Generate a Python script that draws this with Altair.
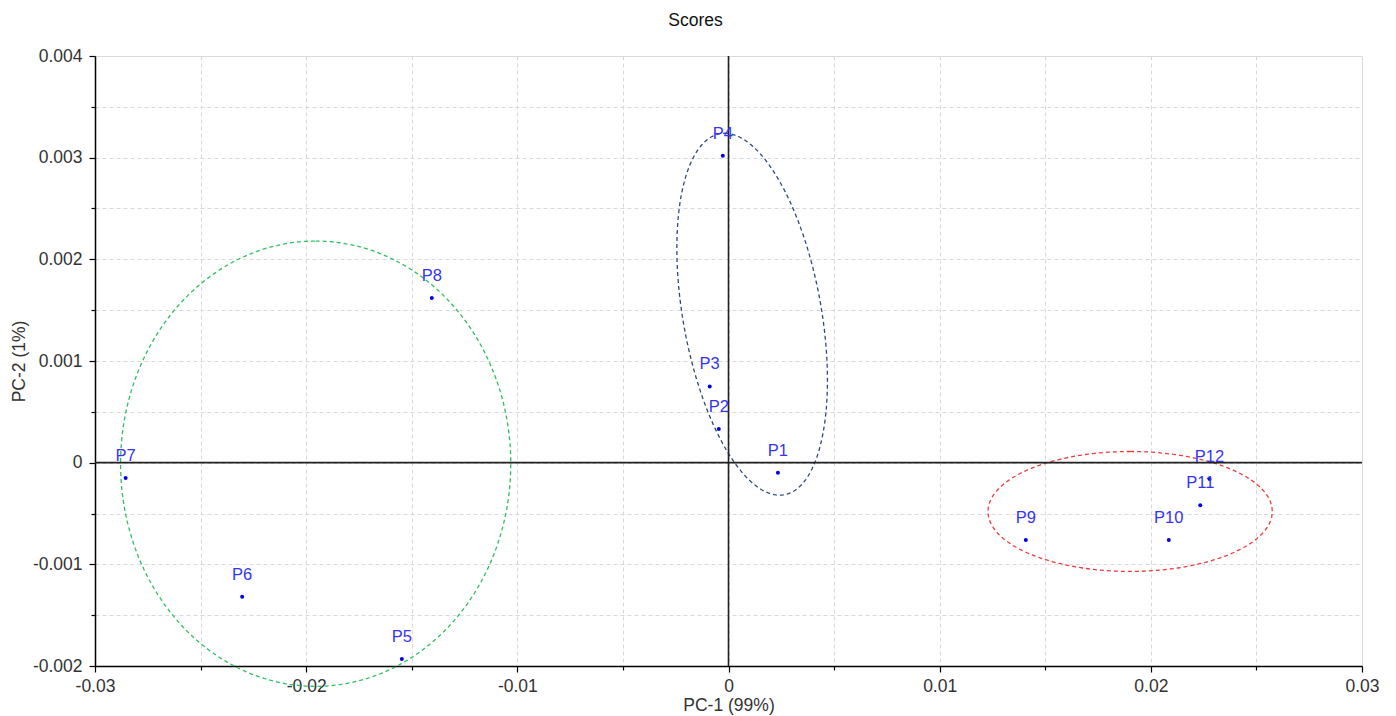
import json
import numpy as np
import pandas as pd
import altair as alt

# ---- data ----
labels = ["P1", "P2", "P3", "P4", "P5", "P6", "P7", "P8", "P9", "P10", "P11", "P12"]
pc1 = [0.00234, -0.00046, -0.00089, -0.00027, -0.01547, -0.02303, -0.02855,
       -0.01405, 0.01408, 0.02085, 0.02234, 0.02278]
pc2 = [-0.00010, 0.00033, 0.00075, 0.00302, -0.00193, -0.00132, -0.00015,
       0.00162, -0.00076, -0.00076, -0.00042, -0.00016]

# ellipses: centre, conjugate semi-diameters u and v (data units)
ell_names = ["green", "blue", "red"]
ell_cx = [-0.01955, 0.00112, 0.01902]
ell_cy = [-0.00001, 0.00146, -0.00048]
ell_ux = [0.0, -0.00130, 0.0]
ell_uy = [0.00219, 0.00178, 0.00059]
ell_vx = [0.00924, 0.00332, 0.00673]
ell_vy = [0.0, 0.0, 0.0]
ell_colors = ["#2fbf62", "#2e4a7d", "#f03a3a"]

x_ticks = [-0.03, -0.025, -0.02, -0.015, -0.01, -0.005, 0, 0.005, 0.01, 0.015, 0.02, 0.025, 0.03]
x_major = [-0.03, -0.02, -0.01, 0, 0.01, 0.02, 0.03]
y_ticks = [-0.002, -0.0015, -0.001, -0.0005, 0, 0.0005, 0.001, 0.0015, 0.002, 0.0025, 0.003, 0.0035, 0.004]
y_major = [-0.002, -0.001, 0, 0.001, 0.002, 0.003, 0.004]

pts = pd.DataFrame({"label": labels, "pc1": pc1, "pc2": pc2})

rows = []
ts = np.linspace(0, 2 * np.pi, 241)
for i, name in enumerate(ell_names):
    for k, t in enumerate(ts):
        rows.append({
            "group": name, "k": k,
            "pc1": ell_cx[i] + ell_ux[i] * np.cos(t) + ell_vx[i] * np.sin(t),
            "pc2": ell_cy[i] + ell_uy[i] * np.cos(t) + ell_vy[i] * np.sin(t),
        })
ell = pd.DataFrame(rows)

font = "Liberation Sans"

def major_test(vals):
    return "indexof(" + json.dumps(vals) + ", datum.value) >= 0"

xs = alt.Scale(domain=[-0.03, 0.03], nice=False, zero=False)
ys = alt.Scale(domain=[-0.002, 0.004], nice=False, zero=False)

x_axis = alt.Axis(
    values=x_ticks, title="PC-1 (99%)", grid=True,
    gridColor="#d9d9d9", gridDash=[4, 3], gridWidth=1,
    labelExpr=major_test(x_major) + " ? '' + datum.value : ''",
    tickSize={"condition": {"test": major_test(x_major), "value": 6}, "value": 4},
    tickColor="#000", tickWidth=1.2, domainColor="#000", domainWidth=1.5,
    labelFont=font, labelFontSize=17.5, labelColor="#333", labelPadding=5,
    titleFont=font, titleFontSize=17.5, titleColor="#333", titleFontWeight="normal",
    titlePadding=2, labelFlush=False, labelOverlap=False,
)
y_axis = alt.Axis(
    values=y_ticks, title="PC-2 (1%)", grid=True,
    gridColor="#d9d9d9", gridDash=[4, 3], gridWidth=1,
    labelExpr=major_test(y_major) + " ? '' + datum.value : ''",
    tickSize={"condition": {"test": major_test(y_major), "value": 6}, "value": 4},
    tickColor="#000", tickWidth=1.2, domainColor="#000", domainWidth=1.5,
    labelFont=font, labelFontSize=17.5, labelColor="#333", labelPadding=7,
    titleFont=font, titleFontSize=17.5, titleColor="#333", titleFontWeight="normal",
    titlePadding=4, labelFlush=False, labelOverlap=False,
)

ell_layer = alt.Chart(ell).mark_line(strokeDash=[4, 3], strokeWidth=1.3).encode(
    x=alt.X("pc1:Q", scale=xs, axis=x_axis),
    y=alt.Y("pc2:Q", scale=ys, axis=y_axis),
    detail="group:N",
    order="k:Q",
    color=alt.Color("group:N", scale=alt.Scale(domain=ell_names, range=ell_colors), legend=None),
)

zero_v = alt.Chart(pd.DataFrame({"v": [0]})).mark_rule(color="#222", strokeWidth=1.6).encode(x=alt.X("v:Q", scale=xs))
zero_h = alt.Chart(pd.DataFrame({"v": [0]})).mark_rule(color="#222", strokeWidth=1.6).encode(y=alt.Y("v:Q", scale=ys))

dots = alt.Chart(pts).mark_circle(size=16, color="#0000ee", opacity=1).encode(
    x=alt.X("pc1:Q", scale=xs), y=alt.Y("pc2:Q", scale=ys)
)
texts = alt.Chart(pts).mark_text(
    dy=-17, baseline="alphabetic", align="center", font=font, fontSize=16.5, color="#3434f5"
).encode(x=alt.X("pc1:Q", scale=xs), y=alt.Y("pc2:Q", scale=ys), text="label:N")

chart = alt.layer(ell_layer, zero_v, zero_h, dots, texts).properties(
    width=1267, height=610,
    title=alt.TitleParams("Scores", font=font, fontSize=17.5, fontWeight=500, color="#111",
                          anchor="middle", dx=-33, offset=18),
    autosize=alt.AutoSizeParams(type="none"),
    padding={"left": 95, "top": 56, "right": 34, "bottom": 50},
).configure_view(stroke="#000", strokeWidth=1.5).configure(background="white")

chart.save("out.html", embed_options={"renderer": "svg", "actions": False})
